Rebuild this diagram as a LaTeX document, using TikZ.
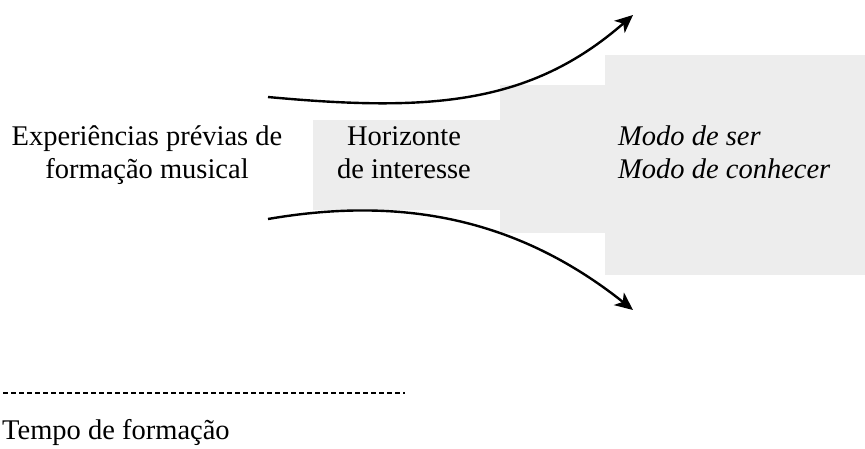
\documentclass[tikz,border=0pt]{standalone}
\usepackage{fontspec}
\setmainfont{Liberation Serif}
\usetikzlibrary{arrows.meta}
\begin{document}
\begin{tikzpicture}[x=1pt,y=-1pt,
  shadebox/.style={fill=black!7,draw=none},
  flow/.style={line width=2.4pt,-{Stealth[length=18pt,width=16pt,inset=5pt]}},
  dashline/.style={line width=2pt,dash pattern=on 5pt off 3pt},
  lbl/.style={font=\fontsize{28.5}{33}\selectfont, inner sep=0pt, align=center, anchor=base},
  ]
\useasboundingbox (0,0) rectangle (865,448);
% shaded steps
\path[shadebox] (313,120) rectangle (500,210);
\path[shadebox] (500,85) rectangle (605,233);
\path[shadebox] (605,55) rectangle (865,275);
% texts (base anchor = baseline of the last line)
\node[lbl] (exp) at (147,178) {Experiências prévias de\\formação musical};
\node[lbl] (hor) at (404,178) {Horizonte\\de interesse};
\node[lbl, align=left, anchor=base west, font=\fontsize{28.5}{33}\selectfont\itshape] (modo) at (618,178) {Modo de ser\\Modo de conhecer};
\node[lbl, anchor=base west] (tempo) at (2,439) {Tempo de formação};
% arrows
\coordinate (u0) at (268,97);
\coordinate (u1) at (633,15);
\coordinate (l0) at (268,219);
\coordinate (l1) at (633,310);
\draw[flow] (u0) .. controls (430,112) and (530,105) .. (u1);
\draw[flow] (l0) .. controls (390,198) and (510,212) .. (l1);
% dashed time line
\coordinate (d0) at (3,393);
\coordinate (d1) at (405,393);
\draw[dashline] (d0) -- (d1);
\end{tikzpicture}
\end{document}
